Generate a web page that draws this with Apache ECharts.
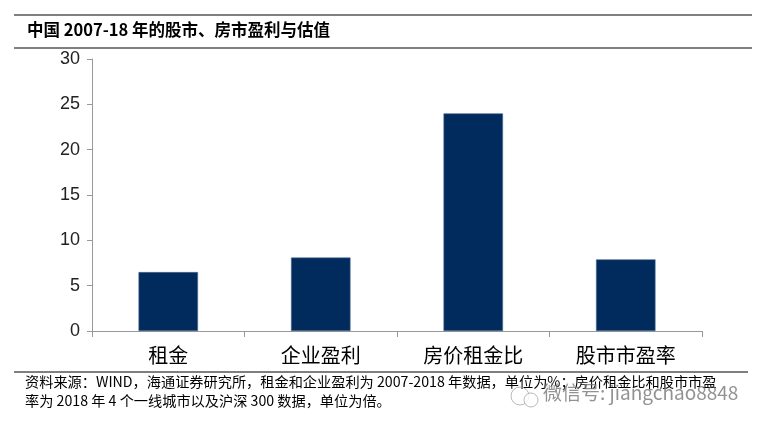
<!DOCTYPE html>
<html><head><meta charset="utf-8">
<script src="https://cdn.jsdelivr.net/npm/echarts@6/dist/echarts.min.js"></script>
<style>html,body{margin:0;padding:0;background:#fff}#c{width:765px;height:433px}</style>
</head><body><div id="c"></div>
<script>
const categories = ['租金', '企业盈利', '房价租金比', '股市市盈率'];
const values = [6.5, 8.1, 24.0, 7.9];
const yTicks = [0, 5, 10, 15, 20, 25, 30];
const titleText = '中国 2007-18 年的股市、房市盈利与估值';
const sourceLine1 = '资料来源：WIND，海通证券研究所，租金和企业盈利为 2007-2018 年数据，单位为%；房价租金比和股市市盈';
const sourceLine2 = '率为 2018 年 4 个一线城市以及沪深 300 数据，单位为倍。';
const watermark = '微信号: jiangchao8848';

const chart = echarts.init(document.getElementById('c'));
chart.setOption({
  animation: false,
  backgroundColor: '#fff',
  grid: {left: 92, right: 63, top: 59, bottom: 102},
  graphic: [
    {type: 'line', shape: {x1: 14, y1: 15, x2: 752, y2: 15}, style: {stroke: '#000', lineWidth: 1.2}},
    {type: 'text', left: 27, top: 21, style: {text: titleText, font: 'bold 16.5px "Noto Sans CJK SC", sans-serif', fill: '#000'}},
    {type: 'line', shape: {x1: 14, y1: 48, x2: 752, y2: 48}, style: {stroke: '#000', lineWidth: 1.2}},
    {type: 'line', shape: {x1: 14, y1: 372, x2: 748, y2: 372}, style: {stroke: '#000', lineWidth: 1.2}},
    {type: 'text', left: 25, top: 375, style: {text: sourceLine1, font: '14.2px "Noto Sans CJK SC", sans-serif', fill: '#000'}},
    {type: 'text', left: 25, top: 394, style: {text: sourceLine2, font: '14.2px "Noto Sans CJK SC", sans-serif', fill: '#000'}},
    {type: 'circle', shape: {cx: 520, cy: 396, r: 9}, style: {fill: 'none', stroke: 'rgba(140,140,140,0.6)', lineWidth: 1}},
    {type: 'circle', shape: {cx: 531, cy: 400, r: 7}, style: {fill: 'rgba(255,255,255,0.8)', stroke: 'rgba(140,140,140,0.6)', lineWidth: 1}},
    {type: 'text', left: 543, top: 383, style: {text: watermark, font: '19px "Noto Sans CJK SC", sans-serif', fill: 'rgba(110,110,110,0.75)'}}
  ],
  xAxis: {
    type: 'category',
    data: categories,
    axisLine: {lineStyle: {color: '#999', width: 1}},
    axisTick: {show: true, length: 6, lineStyle: {color: '#999'}},
    axisLabel: {color: '#000', fontSize: 20, margin: 14, fontFamily: '"Noto Sans CJK SC", sans-serif'}
  },
  yAxis: {
    type: 'value',
    min: 0, max: 30, interval: 5,
    axisLine: {show: true, lineStyle: {color: '#999', width: 1}},
    axisTick: {show: true, length: 5, inside: false, lineStyle: {color: '#999'}},
    splitLine: {show: false},
    axisLabel: {color: '#222', fontSize: 18, margin: 12, fontFamily: 'Arial, "Liberation Sans", sans-serif'}
  },
  series: [{
    type: 'bar',
    data: values,
    barWidth: '39%',
    itemStyle: {color: '#002b5c', borderColor: '#4a6690', borderWidth: 0.6}
  }]
});
</script></body></html>
